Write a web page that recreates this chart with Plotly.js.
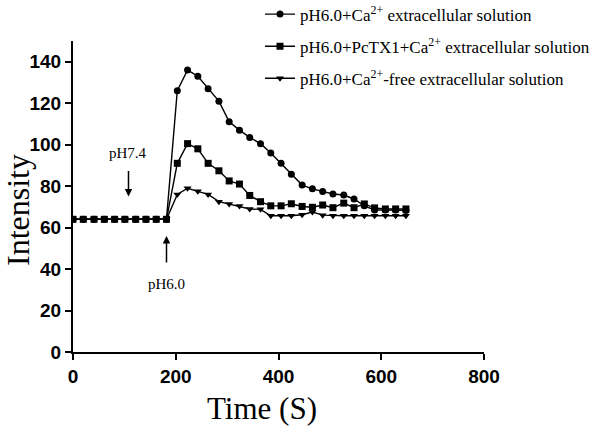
<!DOCTYPE html>
<html>
<head>
<meta charset="utf-8">
<script src="https://cdn.plot.ly/plotly-3.0.1.min.js"></script>
<style>html,body{margin:0;padding:0;background:#fff;}#chart{width:598px;height:432px;}</style>
</head>
<body>
<div id="chart"></div>
<script>
var timeS = [0, 20, 41, 61, 81, 101, 122, 142, 162, 182, 203, 223, 243, 263, 284, 304, 324, 344, 365, 385, 405, 425, 446, 466, 486, 506, 527, 547, 567, 587, 608, 628, 648];
var caValues = [64, 64, 64, 64, 64, 64, 64, 64, 64, 64, 126, 136, 133, 127, 121, 111, 107, 103.5, 100.5, 96, 91, 85.7, 80.5, 78.7, 77.4, 76.2, 75.7, 73.8, 70.5, 68.5, 68.5, 68.5, 68.3];
var pctxValues = [64, 64, 64, 64, 64, 64, 64, 64, 64, 64, 91, 100.5, 98, 91, 87.4, 82.5, 81, 75.5, 72.5, 70.5, 70.5, 71.5, 70.2, 69.8, 70.9, 69.6, 71.8, 69.6, 71.4, 69.5, 69, 69, 69];
var freeValues = [64, 64, 64, 64, 64, 64, 64, 64, 64, 64, 76, 79, 77.5, 76, 72.5, 71.4, 70.4, 69, 68.8, 65.7, 65.7, 65.7, 66.2, 67.5, 66, 65.7, 65.7, 65.7, 65.7, 65.7, 65.7, 65.7, 65.7];
var seriesNames = ["pH6.0+Ca<sup>2+</sup> extracellular solution", "pH6.0+PcTX1+Ca<sup>2+</sup> extracellular solution", "pH6.0+Ca<sup>2+</sup>-free extracellular solution"];
var xTickVals = [0, 200, 400, 600, 800];
var yTickVals = [0, 20, 40, 60, 80, 100, 120, 140];
var xTitle = "Time (S)";
var yTitle = "Intensity";

var serif = "Liberation Serif, Times New Roman, serif";
var sans = "Liberation Sans, Arial, sans-serif";

function mk(y, name, sym, group) {
  return {
    x: timeS, y: y, name: name, type: "scatter", mode: "lines+markers",
    legendgroup: group,
    line: {color: "#000", width: 1.4},
    marker: {symbol: sym, size: 7, color: "#000"}
  };
}
var data = [
  mk(caValues, seriesNames[0], "circle", "a"),
  mk(pctxValues, seriesNames[1], "square", "b"),
  mk(freeValues, seriesNames[2], "triangle-down", "c")
];

var layout = {
  width: 598, height: 432,
  margin: {l: 73, r: 114, t: 41, b: 80, pad: 0, autoexpand: false},
  paper_bgcolor: "#fff", plot_bgcolor: "#fff",
  showlegend: true,
  legend: {
    x: 0.455, y: 1.143, xanchor: "left", yanchor: "top",
    traceorder: "grouped", tracegroupgap: 7,
    font: {family: serif, size: 17, color: "#000"},
    bgcolor: "rgba(0,0,0,0)"
  },
  xaxis: {
    range: [0, 800], tickvals: xTickVals, ticktext: xTickVals.map(String),
    showgrid: false, zeroline: false,
    showline: true, linecolor: "#000", linewidth: 2,
    ticks: "outside", ticklen: 6, tickwidth: 2, tickcolor: "#000",
    tickfont: {family: sans, size: 19, color: "#000", weight: "bold"}
  },
  yaxis: {
    range: [0, 150], tickvals: yTickVals, ticktext: yTickVals.map(String),
    showgrid: false, zeroline: false,
    showline: true, linecolor: "#000", linewidth: 2,
    ticks: "outside", ticklen: 6, tickwidth: 2, tickcolor: "#000",
    tickfont: {family: sans, size: 19, color: "#000", weight: "bold"}
  },
  annotations: [
    {x: 262, y: 408, xref: "paper", yref: "paper", xanchor: "center", yanchor: "middle",
     text: xTitle, showarrow: false,
     font: {family: serif, size: 31, color: "#000"}},
    {x: 18, y: 210, xref: "paper", yref: "paper", xanchor: "center", yanchor: "middle",
     text: yTitle, showarrow: false, textangle: -90,
     font: {family: serif, size: 32, color: "#000"}},
    {x: 108, y: 96, xref: "x", yref: "y", text: "pH7.4", showarrow: false,
     font: {family: serif, size: 15, color: "#000"}},
    {x: 108, y: 75, ax: 108, ay: 88, xref: "x", yref: "y", axref: "x", ayref: "y",
     text: "", showarrow: true, arrowhead: 2, arrowsize: 1, arrowwidth: 1.5, arrowcolor: "#000"},
    {x: 182, y: 33, xref: "x", yref: "y", text: "pH6.0", showarrow: false,
     font: {family: serif, size: 15, color: "#000"}},
    {x: 182, y: 56, ax: 182, ay: 42.5, xref: "x", yref: "y", axref: "x", ayref: "y",
     text: "", showarrow: true, arrowhead: 2, arrowsize: 1, arrowwidth: 1.5, arrowcolor: "#000"}
  ]
};

// convert pixel positions for the two title annotations to paper fractions
(function () {
  var pw = 598 - 73 - 114, ph = 432 - 41 - 80;
  [0, 1].forEach(function (i) {
    var a = layout.annotations[i];
    a.x = (a.x - 73) / pw;
    a.y = (432 - 80 - a.y) / ph;
  });
})();

Plotly.newPlot("chart", data, layout, {displayModeBar: false, staticPlot: true});
</script>
</body>
</html>
